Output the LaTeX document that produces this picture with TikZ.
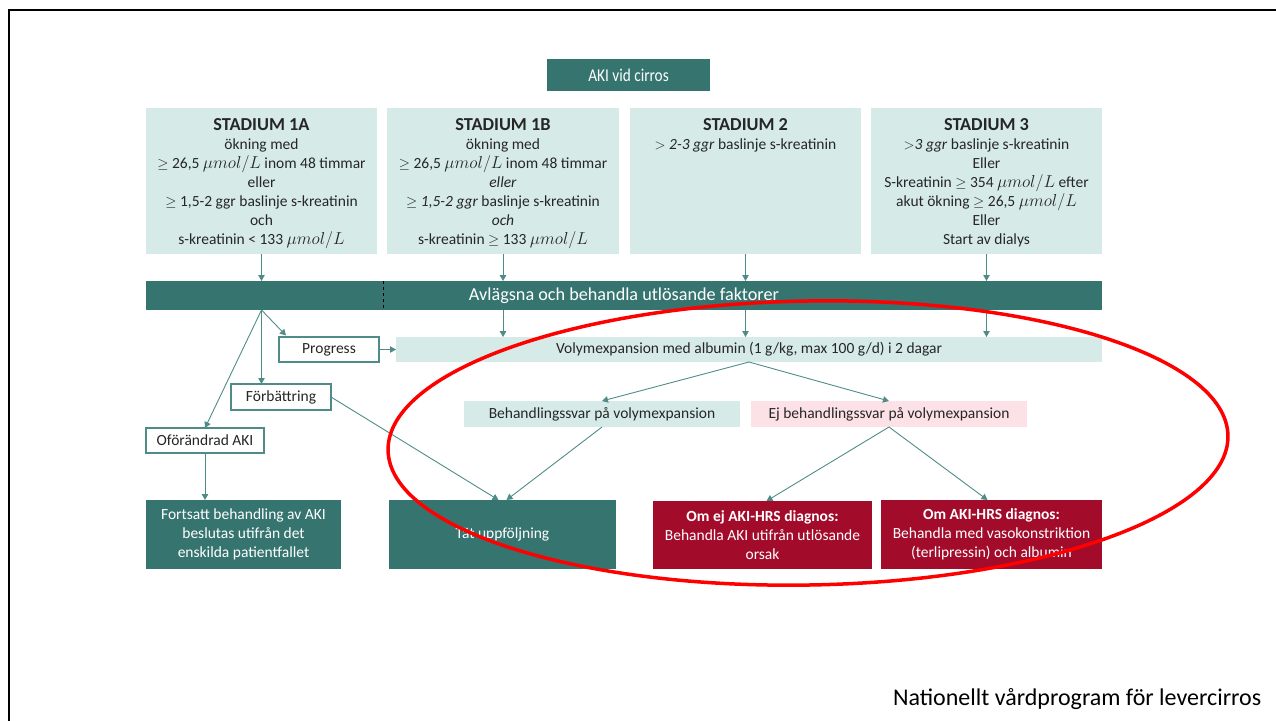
\documentclass[tikz,border=0pt]{standalone}
\usepackage{fontspec}
\setmainfont{Carlito}
\usetikzlibrary{arrows.meta}
\definecolor{dteal}{RGB}{54,116,112}
\definecolor{lteal}{RGB}{214,235,232}
\definecolor{lpink}{RGB}{252,225,230}
\definecolor{dred}{RGB}{163,11,43}
\definecolor{lineteal}{RGB}{79,140,136}
\definecolor{txt}{RGB}{38,38,38}
\newcommand{\umolL}{{\fontsize{17.5}{19}\selectfont$\mu mol/L$}}
\begin{document}
\begin{tikzpicture}[x=1pt,y=-1pt,
  every node/.style={inner sep=0pt, outer sep=0pt, font=\fontsize{15.5}{19}\selectfont, text=txt},
  darkbox/.style={fill=dteal, text=white, align=center},
  lightbox/.style={fill=lteal, align=center},
  pinkbox/.style={fill=lpink, align=center},
  redbox/.style={fill=dred, text=white, align=center},
  whitebox/.style={draw=lineteal, line width=1.1pt, fill=white, align=center},
  stagetext/.style={anchor=north, align=center, font=\fontsize{15.5}{19}\selectfont},
  conn/.style={draw=lineteal, line width=0.9pt, -{Triangle[length=6pt,width=6.5pt]}}
]
\useasboundingbox (0,0) rectangle (1276,720);
% frame
\draw[black, line width=2.5pt] (9,721) -- (9,10) -- (1277,10);

% title
\node[darkbox, minimum width=163pt, minimum height=32pt, font=\fontsize{18}{19}\selectfont] (title) at (628.5,75) {\scalebox{0.85}[1]{AKI vid cirros}};

% stage boxes
\node[lightbox, minimum width=231pt, minimum height=146pt] (s1a) at (261.5,181) {};
\node[lightbox, minimum width=232pt, minimum height=146pt] (s1b) at (503,181) {};
\node[lightbox, minimum width=231pt, minimum height=146pt] (s2) at (745.5,181) {};
\node[lightbox, minimum width=231pt, minimum height=146pt] (s3) at (986.5,181) {};

\node[stagetext] (t1a) at ([yshift=-10pt]s1a.north) {{\fontsize{18.3}{19}\selectfont\bfseries STADIUM 1A}\\
ökning med\\
$\geq$ 26,5 \umolL{} inom 48 timmar\\
eller\\
$\geq$ 1,5-2 ggr baslinje s-kreatinin\\
och\\
s-kreatinin < 133 \umolL};
\node[stagetext] (t1b) at ([yshift=-10pt]s1b.north) {{\fontsize{18.3}{19}\selectfont\bfseries STADIUM 1B}\\
ökning med\\
$\geq$ 26,5 \umolL{} inom 48 timmar\\
\textit{eller}\\
$\geq$ \textit{1,5-2 ggr} baslinje s-kreatinin\\
\textit{och}\\
s-kreatinin $\geq$ 133 \umolL};
\node[stagetext] (t2) at ([yshift=-10pt]s2.north) {{\fontsize{18.3}{19}\selectfont\bfseries STADIUM 2}\\
$>$ \textit{2-3 ggr} baslinje s-kreatinin};
\node[stagetext] (t3) at ([yshift=-10pt]s3.north) {{\fontsize{18.3}{19}\selectfont\bfseries STADIUM 3}\\
$>$\textit{3 ggr} baslinje s-kreatinin\\
Eller\\
S-kreatinin $\geq$ 354 \umolL{} efter\\
akut ökning $\geq$ 26,5 \umolL\\
Eller\\
Start av dialys};

% bar
\node[darkbox, minimum width=956pt, minimum height=29pt, font=\fontsize{18.2}{19}\selectfont] (bar) at (624,295.5) {Avlägsna och behandla utlösande faktorer};
\draw[black, dashed, line width=0.9pt] (383,0 |- bar.north) -- (383,0 |- bar.south);

% second level
\node[lightbox, minimum width=706pt, minimum height=25pt] (volym) at (749,349.5) {Volymexpansion med albumin (1 g/kg, max 100 g/d) i 2 dagar};
\node[whitebox, minimum width=100pt, minimum height=25pt] (progress) at (329,349.5) {Progress};
\node[whitebox, minimum width=100pt, minimum height=26pt] (forb) at (281,397) {Förbättring};
\node[whitebox, minimum width=118pt, minimum height=25pt] (ofor) at (205,440.5) {Oförändrad AKI};
\node[lightbox, minimum width=276pt, minimum height=26pt] (bsvar) at (602,414) {Behandlingssvar på volymexpansion};
\node[pinkbox, minimum width=276pt, minimum height=26pt] (ejsvar) at (889,414) {Ej behandlingssvar på volymexpansion};

% bottom boxes
\node[darkbox, minimum width=195pt, minimum height=69pt, font=\fontsize{15.5}{19}\selectfont] (forts) at (243.5,534.5) {Fortsatt behandling av AKI\\ beslutas utifrån det\\ enskilda patientfallet};
\node[darkbox, minimum width=227pt, minimum height=69pt, font=\fontsize{15.5}{19}\selectfont] (tat) at (502.5,534.5) {Tät uppföljning};
\node[redbox, minimum width=219pt, minimum height=68pt] (omej) at (762.5,535) {\textbf{Om ej AKI-HRS diagnos:}\\ Behandla AKI utifrån utlösande\\ orsak};
\node[redbox, minimum width=221pt, minimum height=69pt] (omaki) at (991.5,534.5) {\textbf{Om AKI-HRS diagnos:}\\ Behandla med vasokonstriktion\\ (terlipressin) och albumin};

% connectors
\draw[conn] (s1a.south) -- (s1a.south |- bar.north);
\draw[conn] (s1b.south) -- (s1b.south |- bar.north);
\draw[conn] (s2.south) -- (s2.south |- bar.north);
\draw[conn] (s3.south) -- (s3.south |- bar.north);
\draw[conn] (s1b.south |- bar.south) -- (s1b.south |- volym.north);
\draw[conn] (s2.south |- bar.south) -- (s2.south |- volym.north);
\draw[conn] (s3.south |- bar.south) -- (s3.south |- volym.north);
\coordinate (split) at (s1a.south |- bar.south);
\draw[conn] (split) -- ([xshift=7pt,yshift=1.5pt]progress.north west);
\draw[conn] (split) -- (split |- forb.north);
\draw[conn] (split) -- (ofor.north);
\draw[conn] (progress.east) -- (volym.west);
\draw[conn] (ofor.south) -- (ofor.south |- forts.north);
\draw[conn] (forb.east) -- ([xshift=-4pt]tat.north);
\draw[conn] (bsvar.south) -- ([xshift=4pt]tat.north);
\draw[conn] (volym.south) -- (bsvar.north);
\draw[conn] (volym.south) -- (ejsvar.north);
\draw[conn] (ejsvar.south) -- ([xshift=4pt]omej.north);
\draw[conn] (ejsvar.south) -- ([xshift=-4pt]omaki.north);

% red ellipse
\draw[red, line width=3.5pt, rotate around={1:(808,443)}] (808,443) ellipse [x radius=420, y radius=142];

% footer
\node[anchor=west, font=\fontsize{24}{28}\selectfont, text=black] (footer) at (893,699) {Nationellt vårdprogram för levercirros};
\end{tikzpicture}
\end{document}
